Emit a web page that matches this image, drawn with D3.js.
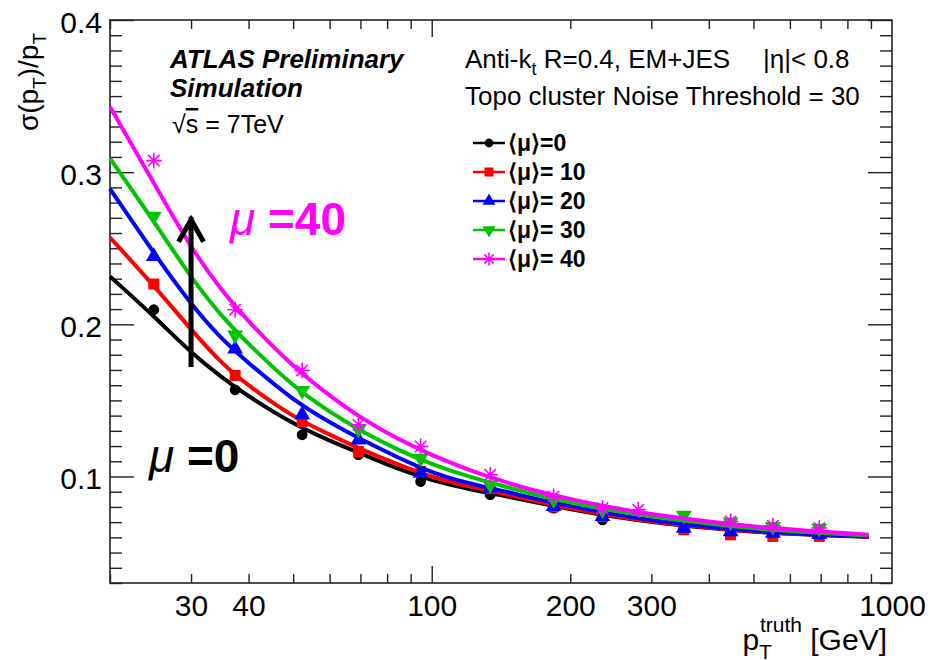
<!DOCTYPE html>
<html>
<head>
<meta charset="utf-8">
<script src="https://cdn.jsdelivr.net/npm/d3@7"></script>
<style>
  body { margin: 0; background: #fff; }
  text { font-family: "Liberation Sans", Arial, Helvetica, sans-serif; fill: #000; }
</style>
</head>
<body>
<svg id="chart" width="930" height="660"></svg>
<script>

// pT bins (GeV) where the MC points sit
var ptBins     = [24.9, 37.4, 52.3, 69.3, 94.6, 134, 184, 235, 353, 446, 551, 695];
var ptBinsMu40 = [24.9, 37.4, 52.3, 69.3, 94.6, 134, 184, 235, 281, 446, 551, 695];

// sigma(pT)/pT points
var pointsMu0  = [0.2096, 0.157, 0.1274, 0.1143, 0.0967, 0.088, 0.0792, 0.0715, 0.066, 0.0617, 0.062, 0.061];
var pointsMu10 = [0.2265, 0.1664, 0.1362, 0.1164, 0.1033, 0.092, 0.080, 0.0737, 0.065, 0.0617, 0.0606, 0.0606];
var pointsMu20 = [0.2446, 0.1838, 0.1406, 0.1241, 0.1022, 0.0924, 0.0803, 0.0737, 0.0661, 0.0638, 0.0628, 0.062];
var pointsMu30 = [0.271, 0.193, 0.1565, 0.131, 0.112, 0.0945, 0.0847, 0.078, 0.0744, 0.070, 0.067, 0.066];
var pointsMu40 = [0.3076, 0.2096, 0.1697, 0.134, 0.1197, 0.1011, 0.0869, 0.0792, 0.0781, 0.0704, 0.0676, 0.0661];

// fitted curves at these pT values
var curvePt   = [20, 25, 30, 35, 40, 50, 60, 70, 85, 100, 120, 140, 170, 200, 250, 300, 400, 500, 650, 890];
var curveMu0  = [0.2315, 0.205, 0.1813, 0.165, 0.1525, 0.1345, 0.1235, 0.1152, 0.1045, 0.0975, 0.0918, 0.0880, 0.0826, 0.0784, 0.0735, 0.0700, 0.0660, 0.0636, 0.0618, 0.0603];
var curveMu10 = [0.257, 0.225, 0.1965, 0.174, 0.1595, 0.139, 0.1275, 0.1180, 0.1075, 0.0995, 0.0935, 0.0893, 0.0835, 0.0790, 0.0740, 0.0703, 0.0662, 0.0638, 0.0620, 0.0604];
var curveMu20 = [0.289, 0.246, 0.213, 0.190, 0.1745, 0.150, 0.1355, 0.1245, 0.112, 0.1025, 0.0955, 0.0912, 0.0850, 0.0805, 0.0750, 0.0712, 0.0668, 0.0642, 0.0622, 0.0606];
var curveMu30 = [0.309, 0.267, 0.2305, 0.205, 0.187, 0.159, 0.1425, 0.130, 0.117, 0.108, 0.1000, 0.0945, 0.0875, 0.0828, 0.0772, 0.0737, 0.0690, 0.0658, 0.0634, 0.0612];
var curveMu40 = [0.343, 0.292, 0.250, 0.222, 0.2015, 0.172, 0.153, 0.1385, 0.124, 0.114, 0.1045, 0.0975, 0.0900, 0.0852, 0.0790, 0.0752, 0.0702, 0.0671, 0.0643, 0.0617];

var legendLabels = ["⟨μ⟩=0", "⟨μ⟩= 10", "⟨μ⟩= 20", "⟨μ⟩= 30", "⟨μ⟩= 40"];
var colors = ["#000000", "#ff0000", "#0000ff", "#00c400", "#ff00ff"];
var markers = ["circle", "square", "triangle", "triangleDown", "star"];

var yMajor = [0.1, 0.2, 0.3, 0.4];
var xLabels = [30, 40, 100, 200, 300, 1000];

var series = [
  {pt: ptBins, pts: pointsMu0, curve: curveMu0},
  {pt: ptBins, pts: pointsMu10, curve: curveMu10},
  {pt: ptBins, pts: pointsMu20, curve: curveMu20},
  {pt: ptBins, pts: pointsMu30, curve: curveMu30},
  {pt: ptBinsMu40, pts: pointsMu40, curve: curveMu40}
];

var margin = {top: 20, right: 38, bottom: 77, left: 110},
    width = 930,
    height = 660,
    innerWidth = width - margin.left - margin.right,
    innerHeight = height - margin.top - margin.bottom;

var xScale = d3.scaleLog().domain([20, 1000]).range([0, innerWidth]);
var yScale = d3.scaleLinear().domain([0.03, 0.4]).range([innerHeight, 0]);

var svg = d3.select("#chart");
var g = svg.append("g")
  .attr("transform", "translate(" + margin.left + "," + margin.top + ")");

// tick positions
var xMinor = d3.range(20, 100, 10).concat(d3.range(200, 1000, 100));
var xMajor = [100];
var yMinor = d3.range(3, 40).map(function(d) { return d / 100; })
  .filter(function(d) { return Math.round(d * 100) % 10 !== 0; });

function ticks(axis, vals, size) {
  return axis.tickValues(vals).tickSize(size).tickFormat("");
}

var axisG = g.append("g").attr("class", "axes");
axisG.append("g").attr("transform", "translate(0," + innerHeight + ")").call(ticks(d3.axisBottom(xScale), xMinor, -9));
axisG.append("g").attr("transform", "translate(0," + innerHeight + ")").call(ticks(d3.axisBottom(xScale), xMajor, -17));
axisG.append("g").call(ticks(d3.axisTop(xScale), xMinor, -9));
axisG.append("g").call(ticks(d3.axisTop(xScale), xMajor, -17));
axisG.append("g").call(ticks(d3.axisLeft(yScale), yMinor, -12));
axisG.append("g").call(ticks(d3.axisLeft(yScale), yMajor, -24));
axisG.append("g").attr("transform", "translate(" + innerWidth + ",0)").call(ticks(d3.axisRight(yScale), yMinor, -12));
axisG.append("g").attr("transform", "translate(" + innerWidth + ",0)").call(ticks(d3.axisRight(yScale), yMajor, -24));
axisG.selectAll(".domain").remove();
axisG.selectAll("text").remove();
axisG.selectAll("line").attr("stroke", "#222").attr("stroke-width", 1.4);

// tick labels
var xl = g.append("g")
  .attr("transform", "translate(0," + innerHeight + ")")
  .call(d3.axisBottom(xScale).tickValues(xLabels).tickSize(0).tickPadding(12).tickFormat(d3.format("d")));
xl.select(".domain").remove();
xl.selectAll("text").attr("font-size", 30).attr("font-family", "Liberation Sans, Arial, sans-serif").attr("fill", "#000");

var yl = g.append("g")
  .call(d3.axisLeft(yScale).tickValues(yMajor).tickSize(0).tickPadding(8).tickFormat(d3.format(".1f")));
yl.select(".domain").remove();
yl.selectAll("text").attr("font-size", 30).attr("dy", "0.4em").attr("font-family", "Liberation Sans, Arial, sans-serif").attr("fill", "#000");

// frame
g.append("rect")
  .attr("width", innerWidth).attr("height", innerHeight)
  .attr("fill", "none").attr("stroke", "#222").attr("stroke-width", 1.6);

// axis titles
var yt = svg.append("text")
  .attr("transform", "translate(38,33) rotate(-90)")
  .attr("text-anchor", "end")
  .attr("font-size", 28);
yt.append("tspan").text("σ(p");
yt.append("tspan").attr("font-size", 19).attr("dy", 8).text("T");
yt.append("tspan").attr("dy", -8).text(")/p");
yt.append("tspan").attr("font-size", 19).attr("dy", 8).text("T");

var xt = svg.append("text")
  .attr("x", 887).attr("y", 650)
  .attr("text-anchor", "end")
  .attr("font-size", 30);
xt.append("tspan").text("p");
xt.append("tspan").attr("font-size", 21).attr("dy", 9).text("T");
xt.append("tspan").attr("font-size", 21).attr("dx", -12).attr("dy", -27).text("truth");
xt.append("tspan").attr("dy", 18).text(" [GeV]");

// curves and markers
var line = d3.line()
  .x(function(d) { return xScale(d[0]); })
  .y(function(d) { return yScale(d[1]); })
  .curve(d3.curveBasis);

function markerPath(type, s) {
  if (type === "circle") return d3.symbol(d3.symbolCircle, s * s * 0.75)();
  if (type === "square") return d3.symbol(d3.symbolSquare, s * s)();
  if (type === "triangle") return d3.symbol(d3.symbolTriangle, s * s * 0.9)();
  if (type === "triangleDown") return d3.symbol(d3.symbolTriangle, s * s * 0.9)();
  var r = s * 0.72, q = r * 0.72;
  return "M0," + (-r) + "V" + r + "M" + (-r) + ",0H" + r +
    "M" + (-q) + "," + (-q) + "L" + q + "," + q + "M" + (-q) + "," + q + "L" + q + "," + (-q);
}

function drawMarker(sel, i, s) {
  var p = sel.append("path")
    .attr("d", markerPath(markers[i], s));
  if (markers[i] === "star") {
    p.attr("fill", "none").attr("stroke", colors[i]).attr("stroke-width", 1.6);
  } else {
    p.attr("fill", colors[i]);
  }
  if (markers[i] === "triangleDown") p.attr("transform", "rotate(180)");
  return p;
}

series.forEach(function(s, i) {
  var sg = g.append("g").attr("class", "series");
  sg.append("path")
    .datum(curvePt.map(function(pt, k) { return [pt, s.curve[k]]; }))
    .attr("fill", "none")
    .attr("stroke", colors[i])
    .attr("stroke-width", 4)
    .attr("stroke-linejoin", "round")
    .attr("d", line);

  sg.selectAll(".pt")
    .data(s.pt.map(function(pt, k) { return [pt, s.pts[k]]; }))
    .enter().append("g")
      .attr("class", "pt")
      .attr("transform", function(d) { return "translate(" + xScale(d[0]) + "," + yScale(d[1]) + ")"; })
      .each(function() { drawMarker(d3.select(this), i, 11); });
});

// text boxes
var t1 = svg.append("g");
t1.append("text").attr("x", 170).attr("y", 68).attr("font-size", 26)
  .attr("font-weight", "bold").attr("font-style", "italic").text("ATLAS Preliminary");
t1.append("text").attr("x", 170).attr("y", 97).attr("font-size", 26)
  .attr("font-weight", "bold").attr("font-style", "italic").text("Simulation");
var rs = t1.append("text").attr("x", 172).attr("y", 133).attr("font-size", 25);
rs.append("tspan").text("√");
rs.append("tspan").style("text-decoration", "overline").text("s");
rs.append("tspan").text(" = 7TeV");

var t2 = svg.append("text").attr("x", 465).attr("y", 68).attr("font-size", 26);
t2.append("tspan").text("Anti-k");
t2.append("tspan").attr("font-size", 18).attr("dy", 7).text("t");
t2.append("tspan").attr("dy", -7).text(" R=0.4, EM+JES");
svg.append("text").attr("x", 763).attr("y", 68).attr("font-size", 26).text("|η|< 0.8");
svg.append("text").attr("x", 465).attr("y", 105).attr("font-size", 26).text("Topo cluster Noise Threshold = 30");

// legend
var legend = svg.append("g").attr("transform", "translate(473,143)");
legendLabels.forEach(function(lab, i) {
  var row = legend.append("g").attr("transform", "translate(0," + (i * 29) + ")");
  row.append("line").attr("x1", 0).attr("x2", 32).attr("y1", 0).attr("y2", 0)
    .attr("stroke", colors[i]).attr("stroke-width", 2.5);
  var m = row.append("g").attr("transform", "translate(16,0)");
  drawMarker(m, i, 9);
  row.append("text").attr("x", 35).attr("y", 8).attr("font-size", 23)
    .attr("font-weight", "bold").text(lab);
});

// annotations
var arrowG = g.append("g").attr("stroke", "#000").attr("stroke-width", 5).attr("fill", "none");
var ax = xScale(30), yLow = yScale(0.172), yHigh = yScale(0.27);
arrowG.append("line").attr("x1", ax).attr("x2", ax).attr("y1", yLow).attr("y2", yHigh - 1);
arrowG.append("path")
  .attr("stroke-linejoin", "miter")
  .attr("d", "M" + (ax - 12.5) + "," + (yHigh + 24) + "L" + ax + "," + (yHigh + 2) + "L" + (ax + 12.5) + "," + (yHigh + 24));

var a40 = svg.append("text").attr("x", 230).attr("y", 235).attr("font-size", 46).style("fill", "#ff00ff");
a40.append("tspan").attr("font-style", "italic").text("μ");
a40.append("tspan").attr("font-weight", "bold").text(" =40");

var a0 = svg.append("text").attr("x", 149).attr("y", 472).attr("font-size", 46).style("fill", "#000");
a0.append("tspan").attr("font-style", "italic").text("μ");
a0.append("tspan").attr("font-weight", "bold").text(" =0");

</script>
</body>
</html>
